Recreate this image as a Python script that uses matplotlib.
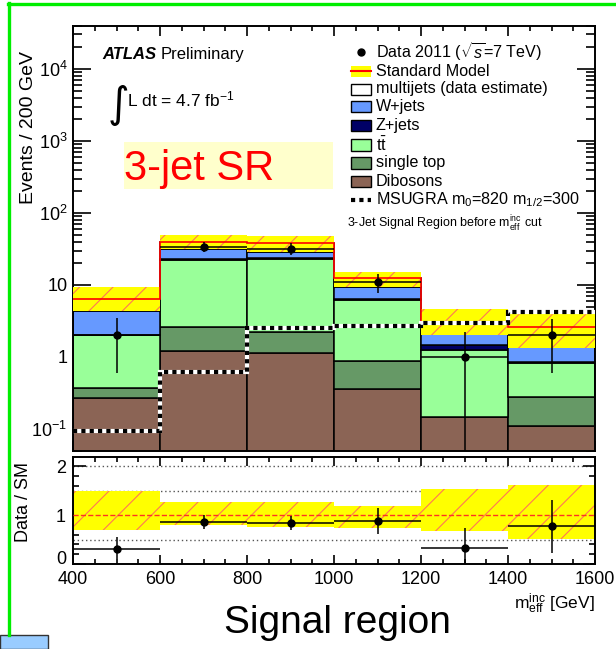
import numpy as np
import matplotlib
matplotlib.use("Agg")
import matplotlib.pyplot as plt
from matplotlib.patches import Rectangle
from matplotlib.lines import Line2D
from matplotlib.ticker import LogLocator, MultipleLocator, NullFormatter

plt.rcParams["font.family"] = ["Liberation Sans", "DejaVu Sans"]
plt.rcParams["mathtext.fontset"] = "custom"
plt.rcParams["mathtext.rm"] = "Liberation Sans"
plt.rcParams["mathtext.it"] = "Liberation Sans:italic"
plt.rcParams["mathtext.bf"] = "Liberation Sans:bold"
plt.rcParams["hatch.linewidth"] = 0.8

# m_eff^inc bins (GeV)
bin_edges = [400, 600, 800, 1000, 1200, 1400, 1600]

# stacked backgrounds, bottom to top (events / bin)
dibosons = [0.27, 1.2, 1.14, 0.36, 0.145, 0.11]
single_top = [0.10, 1.4, 1.08, 0.53, 0.0, 0.17]
ttbar = [1.63, 19.8, 20.8, 5.3, 1.1, 0.55]
zjets = [0.05, 0.4, 0.3, 0.15, 0.2, 0.02]
wjets = [2.25, 8.8, 5.4, 2.96, 0.645, 0.55]
multijets = [2.1, 8.2, 9.6, 3.3, 0.91, 1.21]

# relative SM uncertainty band
band_up = [1.486, 1.26, 1.26, 1.19, 1.54, 1.62]
band_down = [0.685, 0.80, 0.746, 0.733, 0.678, 0.514]

msugra = [0.093, 0.62, 2.55, 2.66, 2.96, 4.2]

data = [2, 34, 32, 11, 1, 2]
data_err_lo = [1.4, 5.5, 5.6, 3.2, 0.999, 1.4]
data_err_hi = [1.5, 6.0, 5.7, 3.3, 1.2, 1.4]

W, H = 616, 649
fig = plt.figure(figsize=(W / 100, H / 100), dpi=100)


def fx(px):
    return px / W


def fy(py):
    return 1 - py / H


ax = fig.add_axes([fx(73), fy(450.7), fx(595) - fx(73), fy(25.5) - fy(450.7)])
ax2 = fig.add_axes([fx(73), fy(564), fx(595) - fx(73), fy(457.3) - fy(564)])

edges = np.array(bin_edges, dtype=float)
left = edges[:-1]
width = np.diff(edges)
centers = left + width / 2

components = [
    (dibosons, "#8b6455"),
    (single_top, "#669966"),
    (ttbar, "#99ff99"),
    (zjets, "#000066"),
    (wjets, "#6699ff"),
    (multijets, "white"),
]
bottom = np.zeros(len(left))
for vals, col in components:
    vals = np.array(vals)
    ax.bar(left, vals, width=width, bottom=bottom, align="edge",
           color=col, edgecolor="black", linewidth=1.1, zorder=2)
    bottom = bottom + vals
sm = bottom

band_col = "#ffff00"
hatch_col = "#ff7755"
ax.bar(left, sm * (np.array(band_up) - np.array(band_down)), width=width,
       bottom=sm * np.array(band_down), align="edge", color=band_col,
       edgecolor=hatch_col, hatch="/", linewidth=0, zorder=3)
ax.stairs(sm, edges, baseline=None, color="red", linewidth=1.2, zorder=4)

ax.stairs(msugra, edges, baseline=None, color="white", linewidth=3, zorder=5)
ax.stairs(msugra, edges, baseline=None, color="black", linewidth=3,
          linestyle=(0, (1, 1)), zorder=6)

ax.errorbar(centers, data, xerr=width / 2, yerr=[data_err_lo, data_err_hi],
            fmt="o", color="black", markersize=5, elinewidth=1.1, capsize=0, zorder=7)

ax.set_yscale("log")
ax.set_xlim(400, 1600)
ax.set_ylim(0.05, 4e4)
ax.set_yticks([0.1, 1, 10, 100, 1000, 10000],
              labels=[r"$10^{-1}$", "1", "10", r"$10^{2}$", r"$10^{3}$", r"$10^{4}$"])
ax.yaxis.set_minor_locator(LogLocator(base=10, subs=np.arange(2, 10)))
ax.yaxis.set_minor_formatter(NullFormatter())
ax.xaxis.set_major_locator(MultipleLocator(200))
ax.xaxis.set_minor_locator(MultipleLocator(50))
ax.tick_params(which="both", direction="in", top=True, right=True,
               labelbottom=False, labelsize=13, width=1.2, pad=4)
ax.tick_params(axis="y", which="major", length=13)
ax.tick_params(axis="y", which="minor", length=6.5)
ax.tick_params(axis="x", which="major", length=7)
ax.tick_params(axis="x", which="minor", length=3.6)

# ratio panel
ratio = np.array(data) / sm
ax2.bar(left, np.array(band_up) - np.array(band_down), width=width,
        bottom=band_down, align="edge", color=band_col, edgecolor=hatch_col,
        hatch="/", linewidth=0, zorder=2)
for yv in [0.5, 1.5, 2.0]:
    ax2.axhline(yv, color="#555555", linestyle=(0, (1, 2)), linewidth=1.0, zorder=1)
ax2.axhline(1.0, color="#ff3322", linestyle="--", linewidth=1.0, zorder=3)
ax2.errorbar(centers, ratio, xerr=width / 2,
             yerr=[np.array(data_err_lo) / sm, np.array(data_err_hi) / sm],
             fmt="o", color="black", markersize=5, elinewidth=1.1, capsize=0, zorder=4)
ax2.set_xlim(400, 1600)
ax2.set_ylim(0, 2.18)
ax2.set_yticks([0, 1, 2])
ax2.yaxis.set_minor_locator(MultipleLocator(0.2))
ax2.xaxis.set_major_locator(MultipleLocator(200))
ax2.xaxis.set_minor_locator(MultipleLocator(50))
ax2.tick_params(which="both", direction="in", top=True, right=True,
                labelsize=13, width=1.2)
ax2.tick_params(axis="y", pad=5)
ax2.tick_params(axis="x", pad=5)
ax2.tick_params(axis="y", which="major", length=9)
ax2.tick_params(axis="y", which="minor", length=4.5)
ax2.tick_params(axis="x", which="major", length=6.5)
ax2.tick_params(axis="x", which="minor", length=3.5)
# sit the "0" label on its tick so it clears the "400" below it
ax2.get_yticklabels()[0].set_verticalalignment("baseline")

for a in (ax, ax2):
    for s in a.spines.values():
        s.set_linewidth(1.4)

# axis titles
fig.text(fx(28.5), fy(128), "Events / 200 GeV", rotation=90, ha="center",
         va="center", fontsize=14)
fig.text(fx(23), fy(502), "Data / SM", rotation=90, ha="center",
         va="center", fontsize=13)
fig.text(fx(595), fy(609), r"m$_{\mathrm{eff}}^{\mathrm{inc}}$ [GeV]",
         ha="right", va="baseline", fontsize=12.5)
fig.text(fx(337), fy(633), "Signal region", ha="center", va="baseline",
         fontsize=28)

# labels inside main panel
fig.text(fx(102), fy(59.3), "ATLAS", fontsize=12, fontweight="bold",
         fontstyle="italic", va="baseline")
fig.text(fx(161), fy(59.3), "Preliminary", fontsize=12, va="baseline")
fig.text(fx(108), fy(117), "\u222b", fontsize=30, va="baseline",
         family=["DejaVu Sans"])
fig.text(fx(127), fy(106), r"L dt = 4.7 fb$^{-1}$", fontsize=12.5,
         va="baseline")

fig.patches.append(Rectangle((fx(124), fy(189)), fx(333) - fx(124),
                             fy(142) - fy(189), transform=fig.transFigure,
                             facecolor="#ffffcc", edgecolor="none", zorder=0))
fig.text(fx(124), fy(180), "3-jet SR", color="#ff0000", fontsize=30,
         va="baseline")

# legend
box_x0, box_x1 = fx(351), fx(371)
text_x = fx(376)
box_h = 11
legend_rows = [
    ("data", r"Data 2011 ($\sqrt{s}$=7 TeV)", 52),
    ("sm", "Standard Model", 71),
    ("white", "multijets (data estimate)", 89),
    ("#6699ff", "W+jets", 106.5),
    ("#000066", "Z+jets", 125.5),
    ("#99ff99", r"$\mathrm{t}\bar{\mathrm{t}}$", 145),
    ("#669966", "single top", 163),
    ("#8b6455", "Dibosons", 181.5),
    ("msugra", r"MSUGRA m$_0$=820 m$_{1/2}$=300", 199.5),
]
for kind, label, yc in legend_rows:
    if kind == "data":
        fig.lines.append(Line2D([fx(361)], [fy(yc)], marker="o", color="black",
                                markersize=5, transform=fig.transFigure))
    elif kind == "sm":
        fig.patches.append(Rectangle((box_x0, fy(yc + box_h / 2)), box_x1 - box_x0,
                                     fy(yc - box_h / 2) - fy(yc + box_h / 2),
                                     transform=fig.transFigure, facecolor=band_col,
                                     edgecolor="none"))
        fig.lines.append(Line2D([box_x0, box_x1], [fy(yc), fy(yc)], color="red",
                                linewidth=1.5, transform=fig.transFigure))
    elif kind == "msugra":
        fig.lines.append(Line2D([box_x0, box_x1], [fy(yc), fy(yc)], color="black",
                                linewidth=3, linestyle=(0, (1, 1)),
                                transform=fig.transFigure))
    else:
        fig.patches.append(Rectangle((box_x0, fy(yc + box_h / 2)), box_x1 - box_x0,
                                     fy(yc - box_h / 2) - fy(yc + box_h / 2),
                                     transform=fig.transFigure, facecolor=kind,
                                     edgecolor="black", linewidth=1.0))
    fig.text(text_x, fy(yc), label, fontsize=11.6, va="center")

fig.text(fx(347), fy(224), r"3-Jet Signal Region before m$_{\mathrm{eff}}^{\mathrm{inc}}$ cut",
         fontsize=9, va="center")

# slide frame decorations
fig.lines.append(Line2D([fx(8.5), fx(8.5)], [fy(3), fy(635)], color="#00ee00",
                        linewidth=2.4, transform=fig.transFigure))
fig.lines.append(Line2D([fx(7.5), fx(616)], [fy(4), fy(4)], color="#00ee00",
                        linewidth=2.4, transform=fig.transFigure))
fig.patches.append(Rectangle((0, 0), fx(7), fy(3) - fy(6), transform=fig.transFigure,
                             facecolor="#000080", edgecolor="none"))
fig.patches.append(Rectangle((0, 0), fx(48), fy(635), transform=fig.transFigure,
                             facecolor="#99ccff", edgecolor="#333333", linewidth=1))

fig.savefig("out.png", dpi=100)
